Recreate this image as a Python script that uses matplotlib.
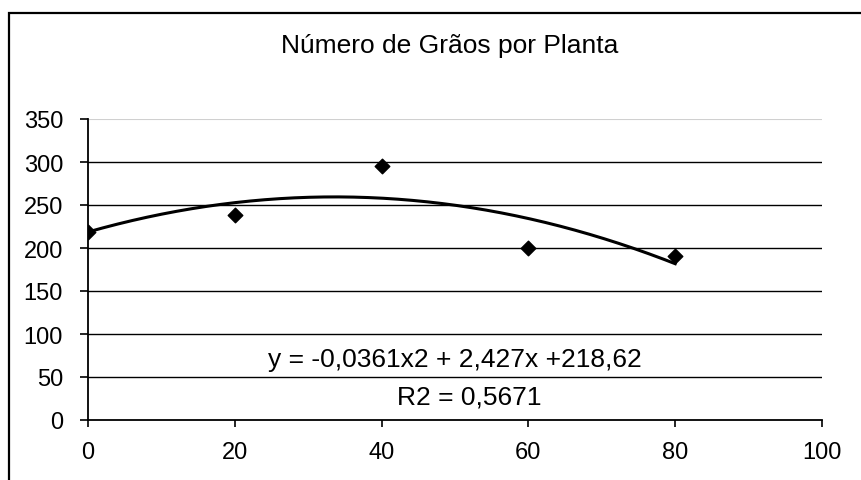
import matplotlib

matplotlib.use("Agg")
import matplotlib.pyplot as plt
import numpy as np
from matplotlib.patches import Rectangle

plt.rcParams["font.family"] = ["Liberation Sans", "DejaVu Sans"]

# observed data
doses = [0, 20, 40, 60, 80]
graos = [219, 238, 295, 200, 191]

# polynomial trend line coefficients (from the equation label)
coef_a = -0.0361
coef_b = 2.427
coef_c = 218.62

yticks = [0, 50, 100, 150, 200, 250, 300, 350]
xticks = [0, 20, 40, 60, 80, 100]

W, H = 861, 481
fig = plt.figure(figsize=(W / 100, H / 100), dpi=100)

# outer chart frame (cut off at right and bottom)
fig.patches.append(Rectangle((9 / W, -0.1), 1.0, 1 - 14 / H + 0.1,
                             transform=fig.transFigure, fill=False,
                             edgecolor="black", linewidth=1.6))

ax = fig.add_axes([88 / W, (H - 421) / H, (822 - 88) / W, (421 - 120) / H])

for yv in yticks[1:-1]:
    ax.axhline(yv, color="black", linewidth=1.0, zorder=1)
ax.axhline(350, color="#d0d0d0", linewidth=1.5, zorder=1)

xs = np.linspace(0, 80, 200)
ax.plot(xs, coef_a * xs ** 2 + coef_b * xs + coef_c, color="black",
        linewidth=2.2, zorder=2)
ax.scatter(doses, graos, marker="D", s=55, color="black", zorder=3)

ax.set_xlim(0, 100)
ax.set_ylim(0, 350)
ax.set_xticks(xticks)
ax.set_yticks(yticks)
ax.tick_params(labelsize=17, width=1.2, color="black")
ax.tick_params(axis="x", length=5, pad=10)
ax.tick_params(axis="y", length=6, pad=12)

for side in ["top", "right"]:
    ax.spines[side].set_visible(False)
for side in ["left", "bottom"]:
    ax.spines[side].set_linewidth(1.3)

ax.text(50, 71, "y = -0,0361x2 + 2,427x +218,62", ha="center", va="center",
        fontsize=19)
ax.text(52, 27, "R2 = 0,5671", ha="center", va="center", fontsize=19)

fig.text(450 / W, 1 - 46 / H, "Número de Grãos por Planta", ha="center",
         va="center", fontsize=19)

fig.savefig("out.png", dpi=100)
